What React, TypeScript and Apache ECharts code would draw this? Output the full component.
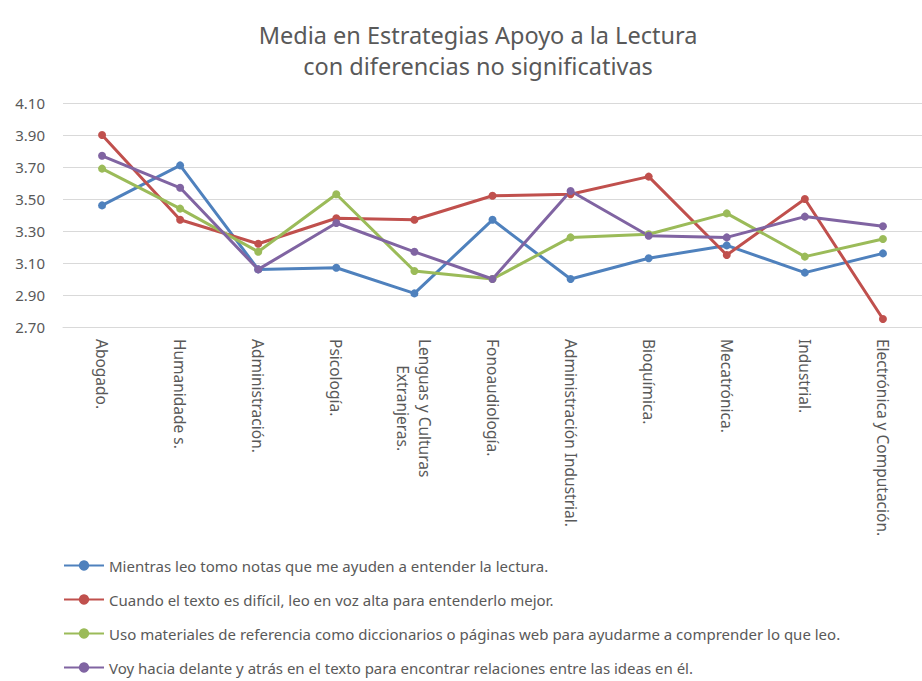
import React, { useEffect, useRef } from "react";
import * as echarts from "echarts";

const titleText = "Media en Estrategias Apoyo a la Lectura\ncon diferencias no significativas";

const categories = [
  "Abogado.",
  "Humanidade s.",
  "Administración.",
  "Psicología.",
  "Lenguas y Culturas\nExtranjeras.",
  "Fonoaudiología.",
  "Administración Industrial.",
  "Bioquímica.",
  "Mecatrónica.",
  "Industrial.",
  "Electrónica y Computación.",
];

const seriesNames = [
  "Mientras leo tomo notas que me ayuden a entender la lectura.",
  "Cuando el texto es difícil, leo en voz alta para entenderlo mejor.",
  "Uso materiales de referencia como diccionarios o páginas web para ayudarme a comprender lo que leo.",
  "Voy hacia delante y atrás en el texto para encontrar relaciones entre las ideas en él.",
];

const notasValues = [3.46, 3.71, 3.06, 3.07, 2.91, 3.37, 3.0, 3.13, 3.21, 3.04, 3.16];
const vozAltaValues = [3.9, 3.37, 3.22, 3.38, 3.37, 3.52, 3.53, 3.64, 3.15, 3.5, 2.75];
const materialesValues = [3.69, 3.44, 3.17, 3.53, 3.05, 3.0, 3.26, 3.28, 3.41, 3.14, 3.25];
const adelanteValues = [3.77, 3.57, 3.06, 3.35, 3.17, 3.0, 3.55, 3.27, 3.26, 3.39, 3.33];

const seriesColors = ["#4F81BD", "#C0504D", "#9BBB59", "#8064A2"];

const yMin = 2.7;
const yMax = 4.1;
const yInterval = 0.2;

export default function App() {
  const ref = useRef<HTMLDivElement>(null);

  useEffect(() => {
    if (!ref.current) return;
    const chart = echarts.init(ref.current, null, { renderer: "svg" });
    const allValues = [notasValues, vozAltaValues, materialesValues, adelanteValues];
    const font = "'Noto Sans', 'Open Sans', sans-serif";
    chart.setOption({
      animation: false,
      backgroundColor: "#ffffff",
      title: {
        text: titleText,
        left: 473,
        textAlign: "center",
        top: 14,
        textStyle: {
          fontFamily: font,
          fontSize: 23.5,
          fontWeight: "normal",
          color: "#595959",
          lineHeight: 31,
        },
      },
      legend: {
        orient: "vertical",
        left: 63,
        top: 558,
        height: 120,
        padding: 0,
        itemWidth: 40,
        itemHeight: 13,
        itemGap: 19,
        data: seriesNames,
        textStyle: {
          fontFamily: font,
          fontSize: 15,
          lineHeight: 14,
          color: "#595959",
        },
      },
      grid: {
        left: 63,
        top: 103,
        width: 869,
        height: 224,
      },
      xAxis: {
        type: "category",
        data: categories,
        boundaryGap: true,
        axisLine: { show: true, lineStyle: { color: "#D9D9D9", width: 1 } },
        axisTick: { show: false },
        axisLabel: {
          interval: 0,
          rotate: -90,
          margin: 12,
          fontFamily: font,
          fontSize: 15.5,
          color: "#595959",
          formatter: (v: string) =>
            v
              .split("\n")
              .map((l) => "{c|" + l + "}")
              .join("\n"),
          rich: {
            c: {
              align: "center",
              fontFamily: font,
              fontSize: 15.5,
              color: "#595959",
              lineHeight: 22,
            },
          },
        },
      },
      yAxis: {
        type: "value",
        min: yMin,
        max: yMax,
        interval: yInterval,
        axisLine: { show: false },
        axisTick: { show: false },
        splitLine: { show: true, lineStyle: { color: "#D9D9D9", width: 1 } },
        axisLabel: {
          margin: 18,
          fontFamily: font,
          fontSize: 15,
          color: "#595959",
          formatter: (v: number) => v.toFixed(2),
        },
      },
      series: seriesNames.map((name, i) => ({
        name,
        type: "line",
        data: allValues[i],
        symbol: "circle",
        symbolSize: 8,
        color: seriesColors[i],
        itemStyle: { color: seriesColors[i] },
        lineStyle: { color: seriesColors[i], width: 3 },
      })),
    });
    return () => chart.dispose();
  }, []);

  return (
    <div
      ref={ref}
      style={{ position: "absolute", left: 0, top: 0, width: 922, height: 681 }}
    />
  );
}
